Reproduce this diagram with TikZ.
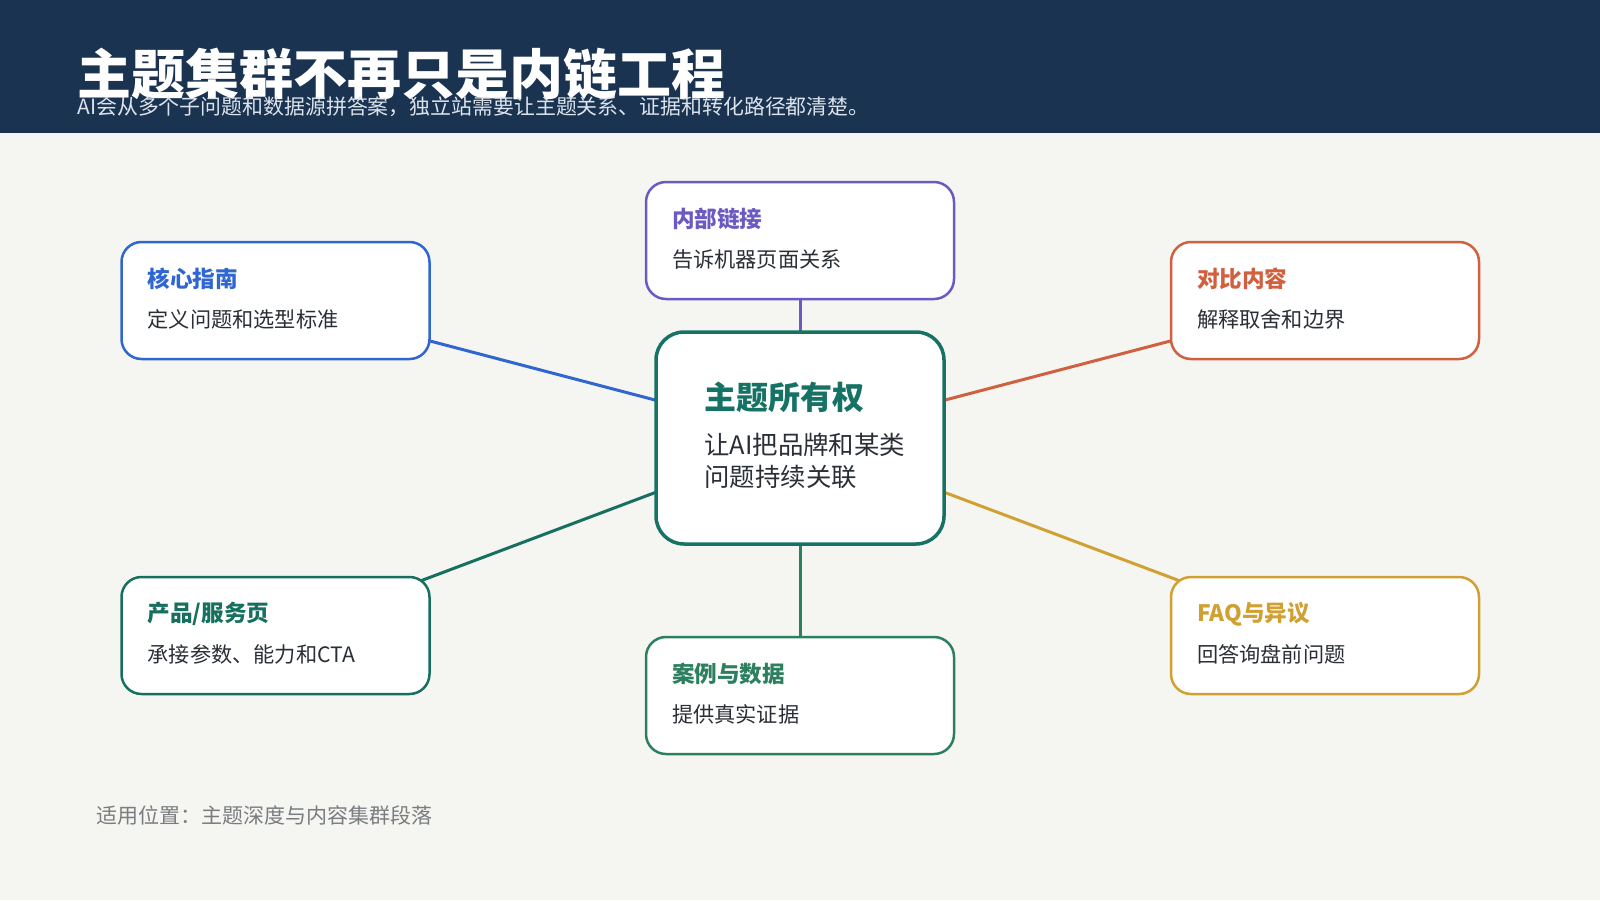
\documentclass[tikz,border=0pt]{standalone}
\usepackage{fontspec}
\setmainfont{Noto Sans CJK SC}
\usetikzlibrary{backgrounds}
\definecolor{hdr}{HTML}{1A3350}
\definecolor{bgc}{HTML}{F5F6F1}
\definecolor{cblue}{HTML}{2F66D0}
\definecolor{cpurple}{HTML}{6A5AC2}
\definecolor{corange}{HTML}{D0603F}
\definecolor{cteal}{HTML}{17705F}
\definecolor{cgreen}{HTML}{2C8060}
\definecolor{cgold}{HTML}{D1A032}
\definecolor{ccenter}{HTML}{167265}
\definecolor{bodytxt}{HTML}{2A2F35}
\definecolor{subtxt}{HTML}{DCE3EC}
\definecolor{foot}{HTML}{7A7D80}
\tikzset{
  card/.style={draw=#1, line width=1.25pt, fill=white, rounded corners=10pt,
    minimum width=154pt, minimum height=58.5pt, inner sep=0pt},
  cardtitle/.style={anchor=west, inner sep=0pt, text=#1, font=\fontsize{11.3pt}{13pt}\selectfont\bfseries},
  cardbody/.style={anchor=west, inner sep=0pt, text=bodytxt, font=\fontsize{10.6pt}{12pt}\selectfont},
  link/.style={draw=#1, line width=1.5pt},
}
\begin{document}
\begin{tikzpicture}[x=0.5pt,y=-0.5pt]
\useasboundingbox (0,0) rectangle (1600,900);
\node[anchor=west, inner sep=0pt, text=white, font=\fontsize{27pt}{30pt}\selectfont\bfseries] (title) at (77,74) {主题集群不再只是内链工程};
\node[anchor=west, inner sep=0pt, text=subtxt, font=\fontsize{10.45pt}{12pt}\selectfont] (subtitle) at (77,107) {AI会从多个子问题和数据源拼答案，独立站需要让主题关系、证据和转化路径都清楚。};

% center
\node[draw=ccenter, line width=1.75pt, fill=white, rounded corners=14pt, minimum width=144pt, minimum height=106pt, inner sep=0pt] (hub) at (800,438) {};
\node[anchor=west, inner sep=0pt, text=ccenter, font=\fontsize{16pt}{18pt}\selectfont\bfseries] (hubtitle) at (704,397) {主题所有权};
\node[anchor=west, inner sep=0pt, text=bodytxt, font=\fontsize{12.7pt}{14pt}\selectfont] (hubl1) at (704,445) {让AI把品牌和某类};
\node[anchor=west, inner sep=0pt, text=bodytxt, font=\fontsize{12.7pt}{14pt}\selectfont] (hubl2) at (704,477) {问题持续关联};

% cards
\node[card=cblue] (core) at (275.5,300.5) {};
\node[card=cpurple] (inlink) at (800,240.5) {};
\node[card=corange] (cmp) at (1325,300.5) {};
\node[card=cteal] (prod) at (275.5,635.5) {};
\node[card=cgreen] (cases) at (800,695.5) {};
\node[card=cgold] (faq) at (1325,635.5) {};

\node[cardtitle=cblue] (coret) at ([xshift=13.5pt,yshift=-19pt]core.north west) {核心指南};
\node[cardbody] (coreb) at ([xshift=13.5pt,yshift=-39.5pt]core.north west) {定义问题和选型标准};
\node[cardtitle=cpurple] (inlinkt) at ([xshift=13.5pt,yshift=-19pt]inlink.north west) {内部链接};
\node[cardbody] (inlinkb) at ([xshift=13.5pt,yshift=-39.5pt]inlink.north west) {告诉机器页面关系};
\node[cardtitle=corange] (cmpt) at ([xshift=13.5pt,yshift=-19pt]cmp.north west) {对比内容};
\node[cardbody] (cmpb) at ([xshift=13.5pt,yshift=-39.5pt]cmp.north west) {解释取舍和边界};
\node[cardtitle=cteal] (prodt) at ([xshift=13.5pt,yshift=-19pt]prod.north west) {产品/服务页};
\node[cardbody] (prodb) at ([xshift=13.5pt,yshift=-39.5pt]prod.north west) {承接参数、能力和CTA};
\node[cardtitle=cgreen] (casest) at ([xshift=13.5pt,yshift=-19pt]cases.north west) {案例与数据};
\node[cardbody] (casesb) at ([xshift=13.5pt,yshift=-39.5pt]cases.north west) {提供真实证据};
\node[cardtitle=cgold] (faqt) at ([xshift=13.5pt,yshift=-19pt]faq.north west) {FAQ与异议};
\node[cardbody] (faqb) at ([xshift=13.5pt,yshift=-39.5pt]faq.north west) {回答询盘前问题};

\begin{scope}[on background layer]
\fill[bgc] (0,0) rectangle (1600,900);
\fill[hdr] (0,0) rectangle (1600,133);
\draw[link=cblue] (core.center) -- (hub.center);
\draw[link=cpurple] (inlink.center) -- (hub.center);
\draw[link=corange] (cmp.center) -- (hub.center);
\draw[link=cteal] (prod.center) -- (hub.center);
\draw[link=cgreen] (cases.center) -- (hub.center);
\draw[link=cgold] (faq.center) -- (hub.center);
\end{scope}

\node[anchor=west, inner sep=0pt, text=foot, font=\fontsize{10.5pt}{12pt}\selectfont] (footer) at (96,815) {适用位置：主题深度与内容集群段落};
\end{tikzpicture}
\end{document}
